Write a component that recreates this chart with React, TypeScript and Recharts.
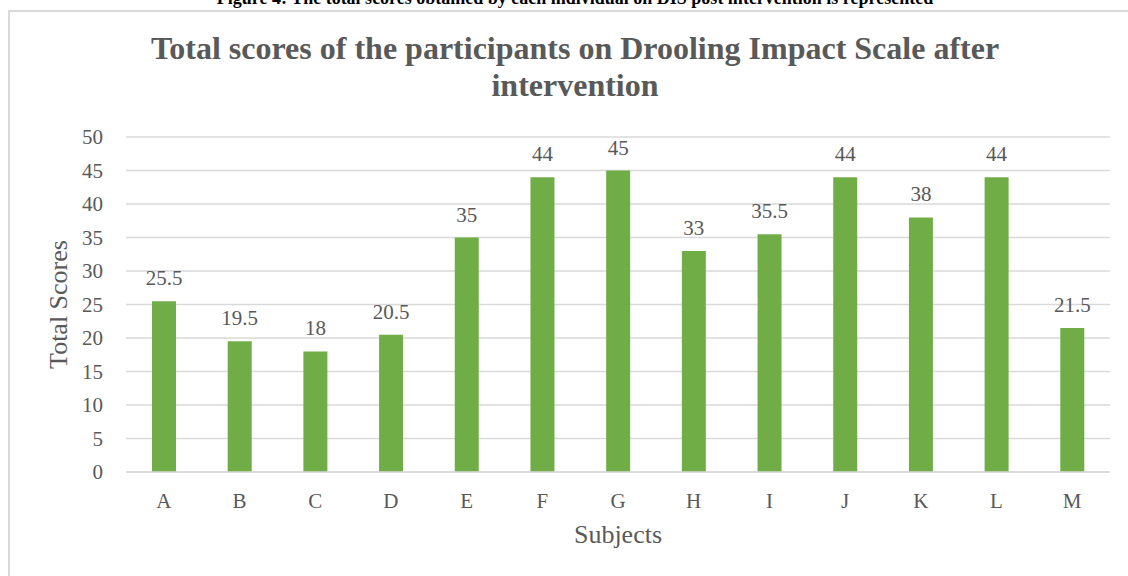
import React from 'react';
import { BarChart, Bar, XAxis, YAxis, CartesianGrid, LabelList, Label } from 'recharts';

const subjects = ['A', 'B', 'C', 'D', 'E', 'F', 'G', 'H', 'I', 'J', 'K', 'L', 'M'];
const totalScores = [25.5, 19.5, 18, 20.5, 35, 44, 45, 33, 35.5, 44, 38, 44, 21.5];
const yTicks = [0, 5, 10, 15, 20, 25, 30, 35, 40, 45, 50];

const data = subjects.map((s, i) => ({ subject: s, score: totalScores[i] }));

const FONT = '"Liberation Serif", "Times New Roman", serif';
const TEXT = '#595959';

export default function App() {
  return (
    <div style={{ position: 'absolute', left: 0, top: 0, width: 1128, height: 576, overflow: 'hidden', background: '#fff', fontFamily: FONT }}>
      <div style={{ position: 'absolute', left: 0, width: 1150, textAlign: 'center', top: -12, fontSize: 18, fontWeight: 'bold', color: '#000', whiteSpace: 'nowrap' }}>
        Figure 4: The total scores obtained by each individual on DIS post intervention is represented
      </div>
      <div style={{ position: 'absolute', left: 8, top: 10, width: 1160, height: 620, border: '2px solid #d9d9d9', boxSizing: 'border-box' }} />
      <div style={{ position: 'absolute', left: 10, width: 1130, top: 30, textAlign: 'center', fontSize: 32, fontWeight: 'bold', color: TEXT, lineHeight: '37px', whiteSpace: 'nowrap' }}>
        Total scores of the participants on Drooling Impact Scale after<br />intervention
      </div>
      <div style={{ position: 'absolute', left: 0, top: 0 }}>
        <BarChart width={1128} height={576} data={data} margin={{ top: 137, right: 18, bottom: 74, left: 66 }}>
          <CartesianGrid vertical={false} stroke="#d9d9d9" strokeWidth={1.5} />
          <XAxis
            dataKey="subject"
            height={30}
            axisLine={{ stroke: '#d9d9d9', strokeWidth: 1.5 }}
            tickLine={false}
            tickSize={0}
            tickMargin={21}
            tick={{ fill: TEXT, fontSize: 21, fontFamily: FONT }}
            interval={0}
          >
            <Label
              content={(props: any) => {
                const vb = props.viewBox || {};
                return (
                  <text x={vb.x + vb.width / 2} y={543} textAnchor="middle" fill={TEXT} fontSize={26} fontFamily={FONT}>
                    Subjects
                  </text>
                );
              }}
            />
          </XAxis>
          <YAxis
            width={60}
            domain={[0, 50]}
            ticks={yTicks}
            axisLine={false}
            tickLine={false}
            tickSize={0}
            tickMargin={23}
            tick={{ fill: TEXT, fontSize: 21, fontFamily: FONT }}
            interval={0}
          >
            <Label
              content={(props: any) => {
                const vb = props.viewBox || {};
                const cy = vb.y + vb.height / 2;
                return (
                  <text x={67} y={cy} transform={`rotate(-90, 67, ${cy})`} textAnchor="middle" fill={TEXT} fontSize={26} fontFamily={FONT}>
                    Total Scores
                  </text>
                );
              }}
            />
          </YAxis>
          <Bar dataKey="score" fill="#70ad47" barSize={24} isAnimationActive={false}>
            <LabelList dataKey="score" position="top" offset={16} fill={TEXT} fontSize={21} fontFamily={FONT} />
          </Bar>
        </BarChart>
      </div>
    </div>
  );
}
